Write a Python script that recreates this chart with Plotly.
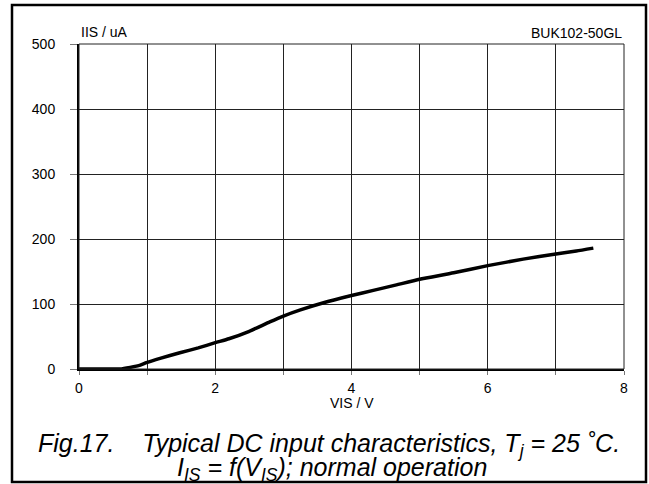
import plotly.graph_objects as go

# Curve (VIS in V, IIS in uA)
vis = [0.0, 0.30, 0.60, 0.75, 0.90, 0.99, 1.19, 1.48, 1.75, 2.00, 2.20, 2.50, 2.80, 3.00,
       3.25, 3.59, 4.00, 4.32, 4.66, 5.00, 5.50, 6.00, 6.52, 7.00, 7.30, 7.55]
iis = [0.0, 0.0, 0.0, 2.5, 6.0, 9.7, 16.4, 25.0, 32.5, 40.5, 46.5, 58.0, 72.5, 81.5,
       91.0, 102.0, 113.0, 121.0, 129.5, 138.0, 148.0, 159.0, 169.0, 177.0, 181.5, 186.0]

x_ticks = [0, 1, 2, 3, 4, 5, 6, 7, 8]
x_ticktext = ["0", "", "2", "", "4", "", "6", "", "8"]
y_ticks = [0, 100, 200, 300, 400, 500]

FONT = "Liberation Sans, Arial, sans-serif"

W, H = 649, 484
L, R, T, B = 79, 624, 44, 369  # plot area in window pixels
PW, PH = R - L, B - T


def px(xw):
    return (xw - L) / PW


def py(yw):
    return (B - yw) / PH


fig = go.Figure()
fig.add_trace(go.Scatter(x=vis, y=iis, mode="lines",
                         line=dict(color="black", width=3.5, shape="spline", smoothing=0.5),
                         showlegend=False, hoverinfo="skip"))

fig.update_layout(
    width=W, height=H,
    margin=dict(l=L, r=W - R, t=T, b=H - B, pad=0),
    paper_bgcolor="white", plot_bgcolor="white",
    font=dict(family=FONT, size=14, color="black"),
    xaxis=dict(range=[0, 8], tickvals=x_ticks, ticktext=x_ticktext,
               showgrid=True, gridcolor="#222", gridwidth=1,
               showline=True, linecolor="black", linewidth=2,
               ticks="outside", ticklen=4, tickcolor="#777", tickwidth=1,
               zeroline=False, fixedrange=True, ticklabelstandoff=1),
    yaxis=dict(range=[0, 500], tickvals=y_ticks,
               showgrid=True, gridcolor="#222", gridwidth=1,
               showline=True, linecolor="black", linewidth=2,
               ticks="outside", ticklen=7, tickcolor="#777", tickwidth=1,
               zeroline=False, fixedrange=True, ticklabelstandoff=12),
    shapes=[
        dict(type="rect", xref="paper", yref="paper", x0=0, x1=1, y0=0, y1=1,
             line=dict(color="#222", width=1), layer="above"),
        dict(type="rect", xref="paper", yref="paper",
             x0=px(12), x1=px(646), y0=py(482), y1=py(5),
             line=dict(color="black", width=2.5)),
    ],
    annotations=[
        dict(text="IIS / uA", xref="paper", yref="paper", x=0, y=py(32),
             xanchor="left", yanchor="middle", showarrow=False, font=dict(size=14)),
        dict(text="BUK102-50GL", xref="paper", yref="paper", x=1, y=py(33),
             xanchor="right", yanchor="middle", showarrow=False, font=dict(size=14)),
        dict(text="VIS / V", xref="paper", yref="paper", x=0.5, y=py(403),
             xanchor="center", yanchor="middle", showarrow=False, font=dict(size=14)),
        dict(text="<i>Fig.17.&nbsp;&nbsp;&nbsp;&nbsp;Typical DC input characteristics, T<sub>j</sub> = 25 ˚C.</i>",
             xref="paper", yref="paper", x=px(329), y=py(445),
             xanchor="center", yanchor="middle", showarrow=False, font=dict(size=25)),
        dict(text="<i>I<sub>IS</sub> = f(V<sub>IS</sub>); normal operation</i>",
             xref="paper", yref="paper", x=px(332), y=py(469),
             xanchor="center", yanchor="middle", showarrow=False, font=dict(size=25)),
    ],
)

fig.write_html("out.html", config={"displayModeBar": False},
               post_script="document.body.style.margin='0';")
